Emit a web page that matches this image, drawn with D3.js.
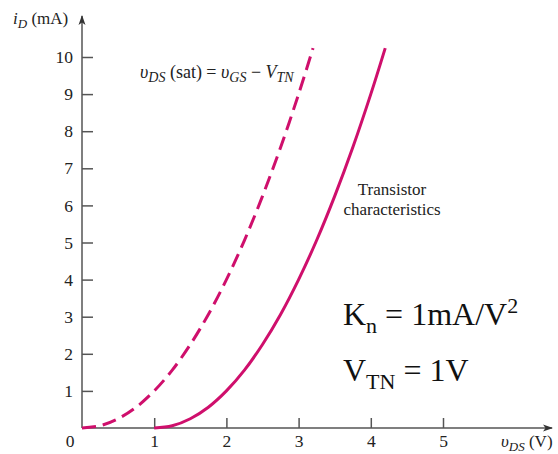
<!DOCTYPE html>
<html>
<head>
<meta charset="utf-8">
<script src="https://cdn.jsdelivr.net/npm/d3@7"></script>
<style>
  html, body { margin: 0; padding: 0; background: #fff; }
  svg { display: block; }
  svg text { font-family: "Liberation Serif", "Times New Roman", serif !important; }
</style>
</head>
<body>
<svg id="chart" width="558" height="454"></svg>
<script>
// ---- data ----
const xTicks = [1, 2, 3, 4, 5];
const yTicks = [1, 2, 3, 4, 5, 6, 7, 8, 9, 10];
// vDS(sat) = vGS - VTN boundary (dashed)
const satV = [0, 0.25, 0.5, 0.75, 1, 1.25, 1.5, 1.75, 2, 2.25, 2.5, 2.75, 3, 3.2];
const satI = [0, 0.06, 0.25, 0.56, 1, 1.56, 2.25, 3.06, 4, 5.06, 6.25, 7.56, 9, 10.24];
// transistor characteristics (solid)
const chV = [1, 1.25, 1.5, 1.75, 2, 2.25, 2.5, 2.75, 3, 3.25, 3.5, 3.75, 4, 4.2];
const chI = [0, 0.06, 0.25, 0.56, 1, 1.56, 2.25, 3.06, 4, 5.06, 6.25, 7.56, 9, 10.24];

const svg = d3.select("#chart");
const x = d3.scaleLinear().domain([0, 5]).range([82, 443]);
const y = d3.scaleLinear().domain([0, 10]).range([428, 57]);
const axisColor = "#555";
const curveColor = "#cf0f6c";
const serif = "'Liberation Serif', 'Times New Roman', serif";

// axes lines with arrows
svg.append("defs").append("marker")
  .attr("id", "arr").attr("viewBox", "0 0 10 10").attr("refX", 9).attr("refY", 5)
  .attr("markerWidth", 10).attr("markerHeight", 10).attr("markerUnits", "userSpaceOnUse")
  .attr("orient", "auto")
  .append("path").attr("d", "M0,1.5 L10,5 L0,8.5 L2.5,5 Z").attr("fill", "#333");

svg.append("line").attr("x1", x(0)).attr("y1", y(0)).attr("x2", 552).attr("y2", y(0))
  .attr("stroke", axisColor).attr("stroke-width", 1.5).attr("marker-end", "url(#arr)");
svg.append("line").attr("x1", x(0)).attr("y1", y(0)).attr("x2", x(0)).attr("y2", 16)
  .attr("stroke", axisColor).attr("stroke-width", 1.5).attr("marker-end", "url(#arr)");

// y axis ticks
const gy = svg.append("g").attr("transform", `translate(${x(0)},0)`)
  .call(d3.axisLeft(y).tickValues(yTicks).tickFormat(d3.format("d"))
    .tickSizeInner(-11).tickSizeOuter(0).tickPadding(9));
gy.attr("font-family", serif).attr("font-size", 17);
gy.select(".domain").remove();
gy.selectAll(".tick line").attr("stroke", axisColor).attr("stroke-width", 1.5);
gy.selectAll(".tick text").style("font-family", serif).style("font-size", "17.5px").attr("fill", "#222");

// x axis ticks
const gx = svg.append("g").attr("transform", `translate(0,${y(0)})`)
  .call(d3.axisBottom(x).tickValues(xTicks).tickFormat(d3.format("d"))
    .tickSizeInner(-10).tickSizeOuter(0).tickPadding(7));
gx.attr("font-family", serif).attr("font-size", 17);
gx.select(".domain").remove();
gx.selectAll(".tick line").attr("stroke", axisColor).attr("stroke-width", 1.5);
gx.selectAll(".tick text").style("font-family", serif).style("font-size", "17.5px").attr("fill", "#222");

// origin label
svg.append("text").attr("x", 70).attr("y", 447).attr("text-anchor", "middle")
  .attr("font-size", 17.5).attr("fill", "#222").text("0");

// curves
const line = d3.line().x(d => x(d[0])).y(d => y(d[1])).curve(d3.curveCatmullRom);
svg.append("path").datum(satV.map((v, i) => [v, satI[i]]))
  .attr("d", line).attr("fill", "none").attr("stroke", curveColor)
  .attr("stroke-width", 3).attr("stroke-dasharray", "14,7");
svg.append("path").datum(chV.map((v, i) => [v, chI[i]]))
  .attr("d", line).attr("fill", "none").attr("stroke", curveColor)
  .attr("stroke-width", 3);

// axis titles
const yt = svg.append("text").attr("x", 13).attr("y", 24).attr("font-size", 17).attr("fill", "#222");
yt.append("tspan").attr("font-style", "italic").text("i");
yt.append("tspan").attr("font-style", "italic").attr("font-size", 13).attr("dy", 4).text("D");
yt.append("tspan").attr("dy", -4).text(" (mA)");

const xt = svg.append("text").attr("x", 501).attr("y", 447).attr("font-size", 17).attr("fill", "#222");
xt.append("tspan").attr("font-style", "italic").text("υ");
xt.append("tspan").attr("font-style", "italic").attr("font-size", 13).attr("dy", 4).text("DS");
xt.append("tspan").attr("dy", -4).text(" (V)");

// annotation
const an = svg.append("text").attr("x", 140).attr("y", 78).attr("font-size", 18).attr("fill", "#222");
an.append("tspan").attr("font-style", "italic").text("υ");
an.append("tspan").attr("font-style", "italic").attr("font-size", 14).attr("dy", 4).text("DS");
an.append("tspan").attr("dy", -4).text(" (sat) = ");
an.append("tspan").attr("font-style", "italic").text("υ");
an.append("tspan").attr("font-style", "italic").attr("font-size", 14).attr("dy", 4).text("GS");
an.append("tspan").attr("dy", -4).text(" \u2212 ");
an.append("tspan").attr("font-style", "italic").text("V");
an.append("tspan").attr("font-style", "italic").attr("font-size", 14).attr("dy", 4).text("TN");

svg.append("text").attr("x", 392).attr("y", 195).attr("text-anchor", "middle")
  .attr("font-size", 17).attr("fill", "#222").text("Transistor");
svg.append("text").attr("x", 392).attr("y", 215).attr("text-anchor", "middle")
  .attr("font-size", 17).attr("fill", "#222").text("characteristics");

// parameters
const kn = svg.append("text").attr("x", 343).attr("y", 325).attr("font-size", 32).attr("fill", "#111");
kn.append("tspan").text("K");
kn.append("tspan").attr("font-size", 22).attr("dy", 8).text("n");
kn.append("tspan").attr("dy", -8).text(" = 1mA/V");
kn.append("tspan").attr("font-size", 22).attr("dy", -12).text("2");

const vt = svg.append("text").attr("x", 343).attr("y", 381).attr("font-size", 32).attr("fill", "#111");
vt.append("tspan").text("V");
vt.append("tspan").attr("font-size", 22).attr("dy", 8).text("TN");
vt.append("tspan").attr("dy", -8).text(" = 1V");
</script>
</body>
</html>
